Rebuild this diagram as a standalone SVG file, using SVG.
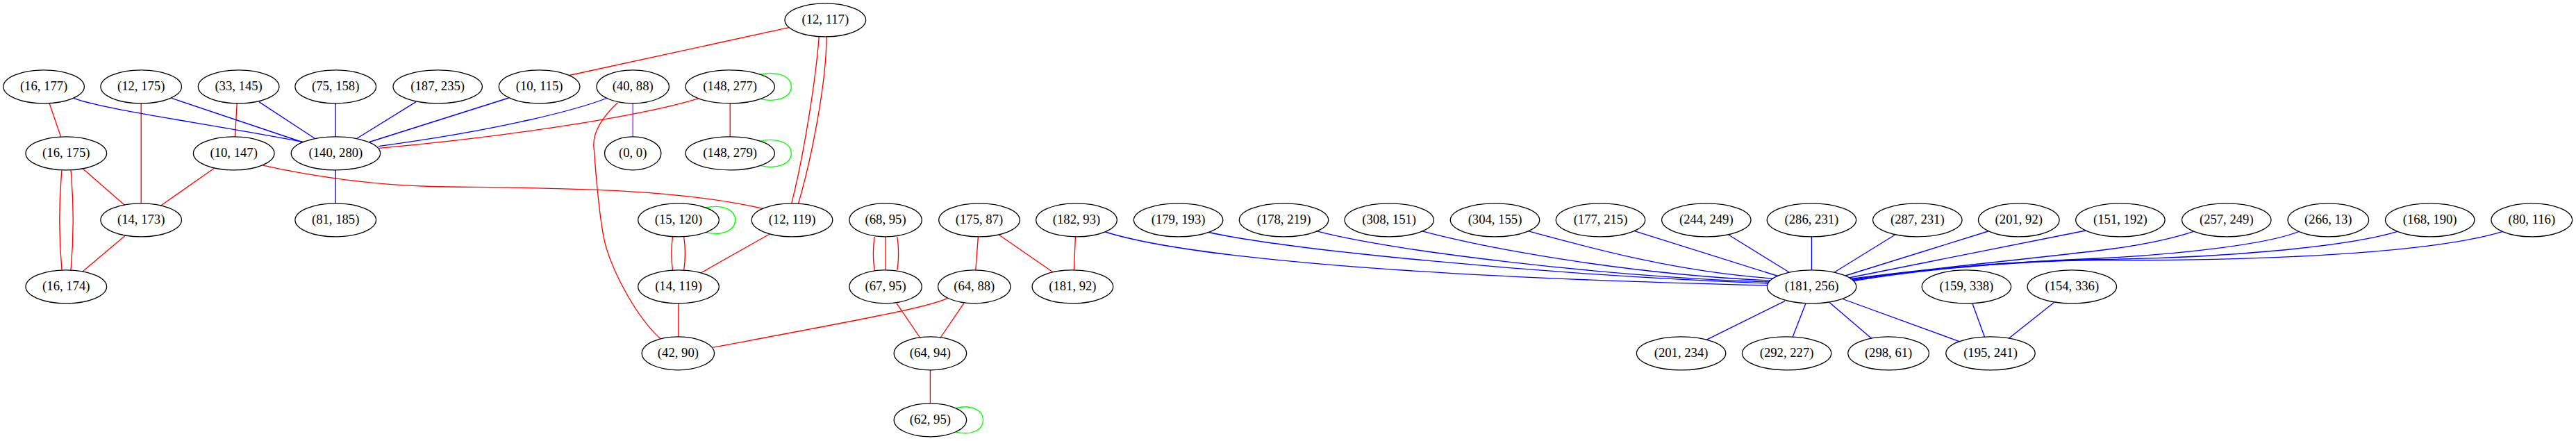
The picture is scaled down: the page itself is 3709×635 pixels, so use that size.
<svg xmlns="http://www.w3.org/2000/svg" width="3709" height="635" viewBox="0 0 3709 635">
<style>
.n ellipse{fill:none;stroke:#000;stroke-width:1.33}
.n text{font-family:"Liberation Serif","Times New Roman",serif;font-size:18.67px;text-anchor:middle;fill:#000}
#edges path{fill:none;stroke-width:1.33}
#edges .r{stroke:#ff0000}
#edges .b{stroke:#0000ff}
#edges .g{stroke:#00ff00}
#edges .p{stroke:#a020f0}
</style>
<rect x="0" y="0" width="3709" height="635" fill="#fff"/>
<g id="edges">
<path class="r" d="M71.2,149 L87.8,197.6"/>
<path class="r" d="M203.2,148.8 L203.2,292.8"/>
<path class="r" d="M341.2,148.8 L338.5,196.8"/>
<path class="r" d="M1005.3,141.8 C930,165 750,195 545.7,213.4"/>
<path class="r" d="M89,244.8 C85,290 85,345 89,388.8"/>
<path class="r" d="M102,244.8 C106,290 106,345 102,388.8"/>
<path class="r" d="M119.4,243 L179.9,295.7"/>
<path class="r" d="M308.4,242.2 L230.9,296.5"/>
<path class="r" d="M378.8,238.2 C440,252 530,266 620,268.5 C760,271 960,268 1099,300.5"/>
<path class="r" d="M179.9,339.4 L118.6,391.2"/>
<path class="r" d="M1135.8,39.7 L819.5,108.5"/>
<path class="r" d="M1179.3,52.7 C1174,120 1156,230 1139.7,292.8"/>
<path class="r" d="M1190,52.7 C1190,120 1168,230 1149.6,292.8"/>
<path class="r" d="M889.4,147.8 C868,168 853,190 855,212 C857,234 862,320 872.8,356.4 C883.6,392.8 915,455 951.1,488"/>
<path class="r" d="M1051.2,148.8 L1051.2,196.8"/>
<path class="r" d="M968.5,340.8 C966.5,355 966.5,375 968.5,388.8"/>
<path class="r" d="M984.7,340.8 C986.7,355 986.7,375 984.7,388.8"/>
<path class="r" d="M1108.1,337 L1009.3,392.9"/>
<path class="r" d="M976.8,436.8 L976.8,484.8"/>
<path class="r" d="M1364.1,429.3 C1340,442 1230,462 1027,500.2"/>
<path class="r" d="M1259.3,340.8 C1256.8,355 1256.8,375 1259.3,388.8"/>
<path class="r" d="M1275.1,340.8 L1275.1,388.8"/>
<path class="r" d="M1291.7,340.8 C1294.2,355 1294.2,375 1291.7,388.8"/>
<path class="r" d="M1290.9,436.6 L1324.6,486"/>
<path class="r" d="M1387.8,436.6 L1354.2,486"/>
<path class="r" d="M1408.4,340.8 L1404.8,388.8"/>
<path class="r" d="M1438.4,338.2 L1516.3,392"/>
<path class="r" d="M1548.4,340.8 L1546.4,388.8"/>
<path class="r" d="M1339.4,532.8 L1339.4,580.8"/>
<path class="g" d="M1094.3,107.2 C1118,102 1139.3,109 1139.3,124.8 C1139.3,140.6 1118,148 1094.3,142.4"/>
<path class="g" d="M1094.3,203.2 C1118,198 1139.3,205 1139.3,220.8 C1139.3,236.6 1118,244 1094.3,238.4"/>
<path class="g" d="M1016,299 C1040,294 1058.7,302 1058.7,316.8 C1058.7,331.6 1040,340 1016,334.6"/>
<path class="g" d="M1376,587.7 C1398,582 1415.5,590 1415.5,604.8 C1415.5,619.6 1398,627.5 1376,621.9"/>
<path class="p" d="M911.2,148.8 L911.2,196.8"/>
<path class="b" d="M106,141.4 C150,158 300,178 436.9,204.5"/>
<path class="b" d="M247.1,141.4 L435,204.5"/>
<path class="b" d="M372.9,146.6 L453.1,199.3"/>
<path class="b" d="M483.2,148.8 L483.2,196.8"/>
<path class="b" d="M599,146.6 L514,199.3"/>
<path class="b" d="M732.5,141 L531.8,204.5"/>
<path class="b" d="M874.8,141 C820,162 700,190 544.9,210.6"/>
<path class="b" d="M483.2,244.8 L483.2,292.8"/>
<path class="b" d="M1591.5,334 C1700,368 2000,398 2544.5,411"/>
<path class="b" d="M1740,334.5 C1850,358 2200,395 2545.5,408"/>
<path class="b" d="M1895,332.7 C2000,360 2300,398 2547,406"/>
<path class="b" d="M2046.7,332.7 C2150,360 2350,395 2549,404"/>
<path class="b" d="M2200,332.7 C2300,360 2420,392 2553,401"/>
<path class="b" d="M2353.3,332.7 L2560,397.5"/>
<path class="b" d="M2489,338.2 L2576,392"/>
<path class="b" d="M2608.4,340.8 L2608.4,388.8"/>
<path class="b" d="M2728.2,338.2 L2641.2,392"/>
<path class="b" d="M2862.6,333 L2657,397"/>
<path class="b" d="M3003,332 L2662,400"/>
<path class="b" d="M3158.3,333.3 C3120,346 3070,355 3020,361 C2900,375 2750,390 2664,401.5"/>
<path class="b" d="M3310,333.3 C3270,350 3150,366 3020,372 C2880,378 2750,390 2666,402.5"/>
<path class="b" d="M3452,333.3 C3380,355 3200,372 3020,373.5 C2880,376 2750,390 2667,403.5"/>
<path class="b" d="M3603.5,333.3 C3500,365 3250,376 3020,374.5 C2880,376 2750,391 2668,404.5"/>
<path class="b" d="M2570,433.4 L2457.3,489.1"/>
<path class="b" d="M2599.7,437.4 L2581.1,485.2"/>
<path class="b" d="M2634.1,435.4 L2694.6,487.2"/>
<path class="b" d="M2653.1,430.5 L2822.3,492.1"/>
<path class="b" d="M2840.1,437.4 L2857.5,485.2"/>
<path class="b" d="M2957.5,435.4 L2892.3,487.2"/>
</g>
<g id="n_12_117" class="n"><ellipse cx="1188.3" cy="28.8" rx="58.3" ry="24"/><text x="1188.3" y="34.4">(12, 117)</text></g>
<g id="n_16_177" class="n"><ellipse cx="63.1" cy="124.8" rx="58.3" ry="24"/><text x="63.1" y="130.4">(16, 177)</text></g>
<g id="n_12_175" class="n"><ellipse cx="203.2" cy="124.8" rx="58.3" ry="24"/><text x="203.2" y="130.4">(12, 175)</text></g>
<g id="n_33_145" class="n"><ellipse cx="343.6" cy="124.8" rx="58.3" ry="24"/><text x="343.6" y="130.4">(33, 145)</text></g>
<g id="n_75_158" class="n"><ellipse cx="483.2" cy="124.8" rx="58.3" ry="24"/><text x="483.2" y="130.4">(75, 158)</text></g>
<g id="n_187_235" class="n"><ellipse cx="630.2" cy="124.8" rx="64.2" ry="24"/><text x="630.2" y="130.4">(187, 235)</text></g>
<g id="n_10_115" class="n"><ellipse cx="776.6" cy="124.8" rx="58.3" ry="24"/><text x="776.6" y="130.4">(10, 115)</text></g>
<g id="n_40_88" class="n"><ellipse cx="911.2" cy="124.8" rx="52.2" ry="24"/><text x="911.2" y="130.4">(40, 88)</text></g>
<g id="n_148_277" class="n"><ellipse cx="1051.2" cy="124.8" rx="64.2" ry="24"/><text x="1051.2" y="130.4">(148, 277)</text></g>
<g id="n_16_175" class="n"><ellipse cx="95.3" cy="220.8" rx="58.3" ry="24"/><text x="95.3" y="226.4">(16, 175)</text></g>
<g id="n_10_147" class="n"><ellipse cx="336.7" cy="220.8" rx="58.3" ry="24"/><text x="336.7" y="226.4">(10, 147)</text></g>
<g id="n_140_280" class="n"><ellipse cx="483.4" cy="220.8" rx="64.2" ry="24"/><text x="483.4" y="226.4">(140, 280)</text></g>
<g id="n_0_0" class="n"><ellipse cx="911.2" cy="220.8" rx="40.7" ry="24"/><text x="911.2" y="226.4">(0, 0)</text></g>
<g id="n_148_279" class="n"><ellipse cx="1051.2" cy="220.8" rx="64.2" ry="24"/><text x="1051.2" y="226.4">(148, 279)</text></g>
<g id="n_14_173" class="n"><ellipse cx="203.2" cy="316.8" rx="58.3" ry="24"/><text x="203.2" y="322.4">(14, 173)</text></g>
<g id="n_81_185" class="n"><ellipse cx="483.2" cy="316.8" rx="58.3" ry="24"/><text x="483.2" y="322.4">(81, 185)</text></g>
<g id="n_15_120" class="n"><ellipse cx="977" cy="316.8" rx="58.3" ry="24"/><text x="977" y="322.4">(15, 120)</text></g>
<g id="n_12_119" class="n"><ellipse cx="1140.5" cy="316.8" rx="58.3" ry="24"/><text x="1140.5" y="322.4">(12, 119)</text></g>
<g id="n_68_95" class="n"><ellipse cx="1275.1" cy="316.8" rx="52.2" ry="24"/><text x="1275.1" y="322.4">(68, 95)</text></g>
<g id="n_175_87" class="n"><ellipse cx="1410" cy="316.8" rx="58.3" ry="24"/><text x="1410" y="322.4">(175, 87)</text></g>
<g id="n_182_93" class="n"><ellipse cx="1550" cy="316.8" rx="58.3" ry="24"/><text x="1550" y="322.4">(182, 93)</text></g>
<g id="n_179_193" class="n"><ellipse cx="1696.6" cy="316.8" rx="64.2" ry="24"/><text x="1696.6" y="322.4">(179, 193)</text></g>
<g id="n_178_219" class="n"><ellipse cx="1848.5" cy="316.8" rx="64.2" ry="24"/><text x="1848.5" y="322.4">(178, 219)</text></g>
<g id="n_308_151" class="n"><ellipse cx="2000.2" cy="316.8" rx="64.2" ry="24"/><text x="2000.2" y="322.4">(308, 151)</text></g>
<g id="n_304_155" class="n"><ellipse cx="2152.5" cy="316.8" rx="64.2" ry="24"/><text x="2152.5" y="322.4">(304, 155)</text></g>
<g id="n_177_215" class="n"><ellipse cx="2304.5" cy="316.8" rx="64.2" ry="24"/><text x="2304.5" y="322.4">(177, 215)</text></g>
<g id="n_244_249" class="n"><ellipse cx="2456.8" cy="316.8" rx="64.2" ry="24"/><text x="2456.8" y="322.4">(244, 249)</text></g>
<g id="n_286_231" class="n"><ellipse cx="2608.4" cy="316.8" rx="64.2" ry="24"/><text x="2608.4" y="322.4">(286, 231)</text></g>
<g id="n_287_231" class="n"><ellipse cx="2760.8" cy="316.8" rx="64.2" ry="24"/><text x="2760.8" y="322.4">(287, 231)</text></g>
<g id="n_201_92" class="n"><ellipse cx="2906.8" cy="316.8" rx="58.3" ry="24"/><text x="2906.8" y="322.4">(201, 92)</text></g>
<g id="n_151_192" class="n"><ellipse cx="3052.9" cy="316.8" rx="64.2" ry="24"/><text x="3052.9" y="322.4">(151, 192)</text></g>
<g id="n_257_249" class="n"><ellipse cx="3205.8" cy="316.8" rx="64.2" ry="24"/><text x="3205.8" y="322.4">(257, 249)</text></g>
<g id="n_266_13" class="n"><ellipse cx="3352.3" cy="316.8" rx="58.3" ry="24"/><text x="3352.3" y="322.4">(266, 13)</text></g>
<g id="n_168_190" class="n"><ellipse cx="3498.7" cy="316.8" rx="64.2" ry="24"/><text x="3498.7" y="322.4">(168, 190)</text></g>
<g id="n_80_116" class="n"><ellipse cx="3645.3" cy="316.8" rx="58.3" ry="24"/><text x="3645.3" y="322.4">(80, 116)</text></g>
<g id="n_16_174" class="n"><ellipse cx="95.3" cy="412.8" rx="58.3" ry="24"/><text x="95.3" y="418.4">(16, 174)</text></g>
<g id="n_14_119" class="n"><ellipse cx="977" cy="412.8" rx="58.3" ry="24"/><text x="977" y="418.4">(14, 119)</text></g>
<g id="n_67_95" class="n"><ellipse cx="1275.1" cy="412.8" rx="52.2" ry="24"/><text x="1275.1" y="418.4">(67, 95)</text></g>
<g id="n_64_88" class="n"><ellipse cx="1402.8" cy="412.8" rx="52.2" ry="24"/><text x="1402.8" y="418.4">(64, 88)</text></g>
<g id="n_181_92" class="n"><ellipse cx="1544.4" cy="412.8" rx="58.3" ry="24"/><text x="1544.4" y="418.4">(181, 92)</text></g>
<g id="n_181_256" class="n"><ellipse cx="2608.6" cy="412.8" rx="64.2" ry="24"/><text x="2608.6" y="418.4">(181, 256)</text></g>
<g id="n_159_338" class="n"><ellipse cx="2831.4" cy="412.8" rx="64.2" ry="24"/><text x="2831.4" y="418.4">(159, 338)</text></g>
<g id="n_154_336" class="n"><ellipse cx="2983.3" cy="412.8" rx="64.2" ry="24"/><text x="2983.3" y="418.4">(154, 336)</text></g>
<g id="n_42_90" class="n"><ellipse cx="976.4" cy="508.8" rx="52.2" ry="24"/><text x="976.4" y="514.4">(42, 90)</text></g>
<g id="n_64_94" class="n"><ellipse cx="1339.4" cy="508.8" rx="52.2" ry="24"/><text x="1339.4" y="514.4">(64, 94)</text></g>
<g id="n_201_234" class="n"><ellipse cx="2420.6" cy="508.8" rx="64.2" ry="24"/><text x="2420.6" y="514.4">(201, 234)</text></g>
<g id="n_292_227" class="n"><ellipse cx="2572.6" cy="508.8" rx="64.2" ry="24"/><text x="2572.6" y="514.4">(292, 227)</text></g>
<g id="n_298_61" class="n"><ellipse cx="2719.1" cy="508.8" rx="58.3" ry="24"/><text x="2719.1" y="514.4">(298, 61)</text></g>
<g id="n_195_241" class="n"><ellipse cx="2866" cy="508.8" rx="64.2" ry="24"/><text x="2866" y="514.4">(195, 241)</text></g>
<g id="n_62_95" class="n"><ellipse cx="1339.4" cy="604.8" rx="52.2" ry="24"/><text x="1339.4" y="610.4">(62, 95)</text></g>
</svg>
